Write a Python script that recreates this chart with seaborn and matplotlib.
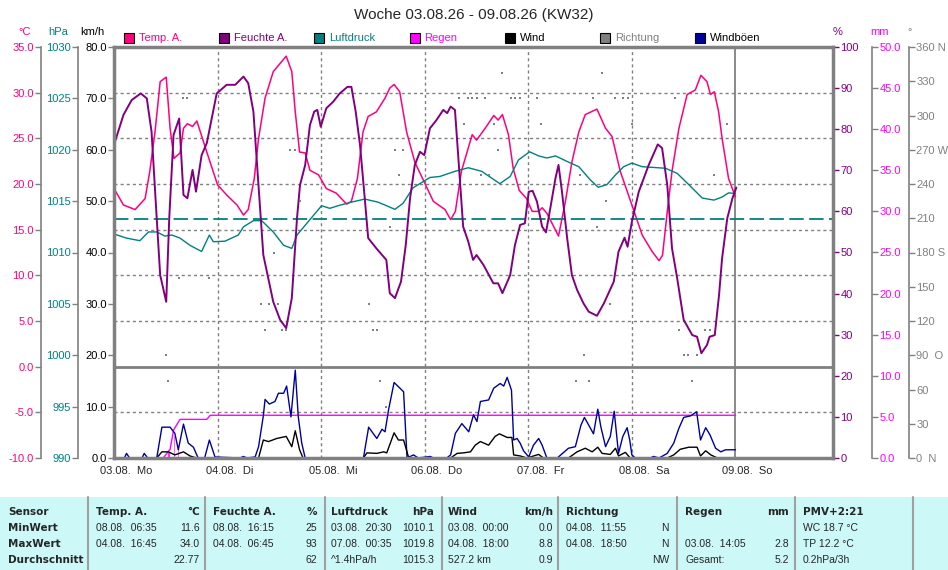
import matplotlib
matplotlib.use("Agg")
import matplotlib.pyplot as plt
import matplotlib.transforms as mtransforms
from matplotlib.patches import Rectangle
from matplotlib.lines import Line2D
import seaborn as sns

sns.set_theme(style="white")
plt.rcParams["font.family"] = ["Liberation Sans", "DejaVu Sans"]

# ---------------- data (hours since 03.08. 00:00) ----------------
temp_h = [0, 2.2, 4.9, 7.2, 8.3, 9.5, 10.7, 12.1, 13, 13.9, 15.3, 16.1, 17, 18.2, 19.2, 21.5,
          24, 26.1, 28.5, 30, 31.1, 32.5, 33.5, 35, 36.9, 39.9, 41.2, 42, 43, 44.3, 45.4, 47.4,
          49.2, 51.5, 53.9, 55, 56.4, 57.7, 58.9, 60.8, 62.8, 63.9, 64.9, 66.2, 67.8, 69.7, 71.7,
          74, 76.7, 78, 79.1, 80.5, 83, 84, 86, 88, 89, 90, 91.4, 92.5, 93.9, 95.6,
          96.9, 98.4, 99.2, 100.3, 103, 104.6, 106.1, 107.7, 109.2, 111.9, 113.9, 115.4, 117.3,
          120, 122.4, 124.7, 126.3, 127.1, 128.2, 129.3, 130.9, 132.8, 134.7, 136, 137.4, 138.2,
          139.1, 140.1, 140.9, 142.4, 144]
temp_v = [19.5, 17.7, 17.2, 18.4, 21.4, 25.7, 31.2, 31.7, 26.1, 22.8, 23.4, 26.1, 26.6, 26.3, 26.9, 23.5,
          19.9, 18.8, 17.7, 16.6, 17.2, 20.6, 25.0, 29.4, 32.3, 34.0, 32.3, 27.9, 23.5, 23.4, 21.5, 21.0,
          19.5, 19.0, 17.8, 18.1, 20.6, 25.7, 27.4, 27.9, 29.4, 30.5, 30.9, 30.1, 25.7, 22.4, 20.4,
          18.1, 17.2, 16.1, 17.0, 21.4, 25.4, 24.8, 26.1, 27.5, 27.0, 27.6, 25.4, 21.7, 19.3, 18.4,
          17.0, 17.0, 17.4, 16.8, 14.3, 18.1, 22.4, 25.7, 27.6, 28.2, 26.1, 25.2, 21.4,
          17.7, 14.4, 12.6, 11.6, 12.2, 17.0, 21.4, 26.1, 29.8, 30.3, 31.9, 31.2, 29.8,
          30.1, 27.9, 25.0, 20.6, 18.6]

hum_h = [0, 2.2, 4.1, 6.2, 7.6, 8.7, 9.9, 10.7, 12.1, 12.8, 13.8, 15.1, 16.1, 17, 18.2, 19, 20.3, 21.5,
         23.8, 26.1, 28.1, 30, 31.1, 32.3, 33.1, 34.6, 36.9, 38.5, 39.9, 41.2, 42.4, 43.1, 44.3, 45.4,
         46.4, 47.1, 47.9, 49.2, 50.8, 52.3, 54.1, 55, 56, 57, 58.1, 58.9, 60.8, 63.1, 63.9, 65.1,
         66.5, 67.6, 68.6, 69.7, 70.9, 71.9, 73.2, 74.7, 76.3, 77.2, 78, 79, 79.8, 80.9, 82.1, 83.2,
         84, 85.6, 87.9, 89, 90, 91.8, 92.9, 94.1, 95.2, 96.1, 97, 98, 99.2, 100.1, 101.1, 102.3, 103,
         103.8, 105, 106.1, 107.3, 108.8, 110, 111.9, 113.5, 115.8, 116.9, 118.3, 119, 120, 121.6,
         123.9, 126, 127, 128.2, 129.3, 130.5, 132, 134, 135.1, 136.1, 137.4, 138, 139.2, 140.2,
         140.9, 142.1, 143.3, 144.2]
hum_v = [76.2, 83.5, 87.1, 88.7, 87.5, 79.4, 58.3, 44.5, 38.0, 58.3, 78.6, 82.6, 64.0, 63.2, 70.1, 64.8, 73.7, 76.6,
         88.7, 90.8, 90.8, 92.8, 91.2, 84.3, 72.1, 49.4, 38.0, 33.6, 31.6, 38.9, 58.3, 66.4, 71.3, 81.0,
         84.3, 84.7, 80.6, 85.1, 86.7, 88.7, 90.3, 90.3, 84.3, 76.2, 63.2, 53.5, 51.0, 48.2, 40.1, 38.9,
         42.9, 51.8, 63.2, 71.3, 74.5, 73.7, 80.2, 82.2, 84.7, 83.9, 85.5, 84.7, 72.9, 56.3, 52.6, 48.2,
         49.4, 47.0, 42.5, 42.5, 40.1, 44.5, 51.8, 56.7, 57.1, 64.8, 65.0, 62.4, 56.3, 54.9, 60.8, 68.1, 71.3,
         64.8, 53.5, 44.5, 40.9, 37.6, 35.6, 34.6, 37.6, 42.9, 50.2, 53.6, 51.4, 57.5, 64.8,
         71.3, 76.3, 75.4, 66.4, 51.0, 43.7, 33.6, 29.9, 29.5, 25.5, 27.5, 29.5, 29.9, 39.7,
         48.6, 58.3, 63.2, 65.8]

pres_h = [0, 2.9, 6, 8, 9.9, 11.8, 13.4, 15.3, 17.6, 20.3, 22.1, 23, 25.7, 28.8, 30, 32.3, 34.2, 36.9,
          39.3, 41.2, 42.4, 45.4, 48.1, 50, 52.3, 55, 58.1, 61.2, 65.1, 67, 69.3, 73.2, 75.5, 79, 82.1,
          85.2, 89.4, 91.8, 93.7, 96.3, 98.4, 100.3, 102.3, 105.3, 107.7, 110.4, 112.2, 114.2, 116.2,
          118.1, 120, 122.4, 127.8, 130.5, 133.2, 136.3, 139, 140.9, 142.4, 144]
pres_v = [1011.8, 1011.4, 1011.15, 1012.0, 1012.0, 1011.6, 1011.7, 1011.4, 1010.7, 1010.1, 1011.7, 1011.05,
          1011.1, 1011.7, 1012.5, 1013.1, 1013.1, 1012.0, 1010.7, 1010.4, 1011.7, 1013.2, 1014.55, 1014.3,
          1014.6, 1014.9, 1015.2, 1014.9, 1014.2, 1014.8, 1016.3, 1017.3, 1017.4, 1017.9, 1018.25, 1017.9,
          1016.7, 1017.4, 1019.0, 1019.8, 1019.4, 1019.2, 1019.4, 1018.8, 1018.35, 1017.05, 1016.35,
          1016.6, 1017.55, 1018.35, 1018.7, 1018.35, 1018.2, 1017.7, 1016.6, 1015.3, 1015.1, 1015.4,
          1015.8, 1015.75]
pres_std = 1013.25

gust_h = [0, 2.4, 2.9, 3.6, 6.5, 7, 7.8, 9.9, 11.1, 13, 14.1, 14.9, 16.1, 17.2, 18.4, 19.5, 21, 22.1,
          23.4, 29.2, 30, 30.8, 32.7, 33.5, 34.6, 35, 36, 37.3, 38.1, 39.3, 40, 41, 42, 42.7, 43.5,
          44.3, 57.8, 59, 60.9, 62.1, 62.8, 63.6, 64.9, 67.1, 67.9, 69.4, 70.5, 73.3, 74, 77.1, 78,
          79.1, 80.6, 82.2, 83.3, 84.1, 84.9, 86.8, 88, 89.5, 90.3, 91.1, 92.1, 92.6, 93.4, 94.1,
          94.9, 96.1, 97.2, 98.4, 99.2, 100.3, 102.7, 103.8, 105.3, 106.9, 108.2, 109, 110, 111.1,
          112.1, 112.8, 113.9, 115, 115.9, 116.9, 117.9, 118.9, 119.5, 120, 120.8, 124.3, 125,
          126.3, 128.2, 129.7, 130.9, 132, 133.6, 135, 135.9, 137.1, 138.1, 139.4, 140.6, 141.7, 144]
gust_v = [0, 0, 0.9, 0, 0, 0.9, 0, 0, 6.0, 6.0, 4.8, 1.6, 6.6, 2.9, 2.1, 0, 0, 3.5,
          0.2, 0, 0.3, 0, 0.2, 2.2, 8.2, 11.4, 10.5, 11.0, 12.6, 12.6, 14.0, 8.0, 17.1, 8.0, 2.9,
          0, 0, 6.0, 3.8, 5.6, 5.1, 9.3, 14.7, 12.9, 0, 0.6, 0, 0.3, 0, 0, 0.6,
          4.8, 6.7, 5.1, 8.4, 7.1, 11.0, 11.3, 13.6, 14.5, 14.0, 15.7, 13.2, 3.5, 3.8, 2.9,
          1.4, 0.2, 2.5, 3.8, 2.5, 0, 0, 0.8, 1.9, 2.2, 6.4, 7.9, 6.4, 4.7,
          9.5, 6.1, 2.2, 4.2, 9.1, 0.9, 4.2, 5.9, 3.5, 0.6, 0, 0, 0.3,
          0, 0.9, 2.9, 5.8, 7.9, 8.2, 9.0, 3.5, 5.9, 4.5, 1.9, 1.2, 1.6, 1.6]

wind_h = [0, 9.9, 11.1, 12.6, 14.1, 16.1, 17.6, 19.1, 33.5, 34.6, 35.8, 37.7, 39.9, 41.2, 42, 43, 43.8,
          57.8, 58.6, 60.9, 62.5, 63.2, 64.9, 65.9, 67.1, 68.3, 78, 79.5, 81, 82.6, 83.7, 84.9, 86.8,
          88.3, 89.3, 91.1, 92.2, 92.6, 94.1, 95.7, 98.4, 99.5, 105.3, 107.3, 109.2, 110.8, 112.1,
          113.1, 115, 116.2, 116.9, 118.5, 119.6, 128.2, 129.7, 131.2, 133.2, 135.1, 135.9, 137.1,
          138.3, 139.8, 144]
wind_v = [0, 0, 1.2, 1.2, 0.6, 1.2, 0.4, 0, 0, 3.5, 3.2, 3.8, 4.2, 2.2, 5.3, 1.6, 0,
          0, 1.0, 0.9, 1.2, 1.0, 4.9, 3.5, 3.5, 0, 0, 0.9, 1.0, 1.2, 2.5, 3.2, 2.5,
          4.2, 4.7, 4.0, 4.0, 0.6, 0.4, 0, 0.7, 0, 0, 1.2, 1.9, 1.2, 2.1,
          0.9, 0.7, 1.9, 0.4, 1.1, 0, 0, 0.6, 1.7, 2.1, 2.1, 0.4, 1.4,
          0.6, 0, 0]

dir_h = [12, 12.5, 15.1, 16.1, 17, 22, 34, 35, 36, 37.1, 38, 38.9, 39.8, 40.8, 42, 43, 59, 60, 61,
         61.7, 63, 64, 65, 66, 67, 80, 81, 82, 83, 84, 85, 86, 87, 88, 89, 90, 92, 93, 94, 98, 99,
         107, 108, 109, 110, 111, 112, 113, 114, 115, 116, 118, 119, 120, 130, 131, 132, 133, 134,
         135, 137, 138, 139, 142]
dir_deg = [90, 67.5, 157.5, 315, 315, 157.5, 135, 112.5, 135, 180, 135, 112.5, 112.5, 270, 270, 225, 135,
           112.5, 112.5, 67.5, 45, 202.5, 270, 247.5, 270, 315, 292.5, 315, 315, 315, 247.5, 315, 247.5,
           292.5, 270, 337.5, 315, 315, 315, 315, 292.5, 67.5, 247.5, 90, 67.5, 315, 202.5, 337.5, 225,
           135, 315, 315, 315, 292.5, 315, 112.5, 90, 90, 67.5, 90, 112.5, 112.5, 247.5, 292.5]

rain_h = [0, 11.4, 12.6, 13.0, 13.8, 15.3, 21.5, 22.3, 144]
rain_total = [0, 0, 0.8, 1.05, 3.4, 4.7, 4.7, 5.2, 5.2]
rain_bar_h = [12.6, 13.9, 14.8, 21.7]
rain_bar_v = [0.8, 2.8, 1.2, 0.3]

day_labels = ["03.08.  Mo", "04.08.  Di", "05.08.  Mi", "06.08.  Do",
              "07.08.  Fr", "08.08.  Sa", "09.08.  So"]
dir_labels = ["0  N", "30", "60", "90  O", "120", "150", "180 S",
              "210", "240", "270 W", "300", "330", "360 N"]

legend_labels = ["Temp. A.", "Feuchte A.", "Luftdruck", "Regen", "Wind", "Richtung", "Windböen"]

table_cols = [
    ("Temp. A.", "°C", ["08.08.  06:35", "04.08.  16:45", ""], ["11.6", "34.0", "22.77"]),
    ("Feuchte A.", "%", ["08.08.  16:15", "04.08.  06:45", ""], ["25", "93", "62"]),
    ("Luftdruck", "hPa", ["03.08.  20:30", "07.08.  00:35", "^1.4hPa/h"], ["1010.1", "1019.8", "1015.3"]),
    ("Wind", "km/h", ["03.08.  00:00", "04.08.  18:00", "527.2 km"], ["0.0", "8.8", "0.9"]),
    ("Richtung", "", ["04.08.  11:55", "04.08.  18:50", ""], ["N", "N", "NW"]),
    ("Regen", "mm", ["", "03.08.  14:05", "Gesamt:"], ["", "2.8", "5.2"]),
]
table_rows = ["Sensor", "MinWert", "MaxWert", "Durchschnitt"]
pmv_lines = ["PMV+2:21", "WC 18.7 °C", "TP 12.2 °C", "0.2hPa/3h"]

# ---------------- styling ----------------
C_TEMP = "#FF0080"
C_HUM = "#800080"
C_PRES = "#008080"
C_RAIN = "#FF00FF"
C_WIND = "#000000"
C_DIR = "#808080"
C_GUST = "#0000A0"
GRID = "#808080"
legend_colors = [C_TEMP, C_HUM, C_PRES, C_RAIN, C_WIND, C_DIR, C_GUST]
legend_text_colors = [C_TEMP, C_HUM, C_PRES, C_RAIN, "black", C_DIR, "black"]
FS = 8
BOLD = dict(fontsize=7.5, weight="bold", family="DejaVu Sans")

W, H = 948, 570
L, R, T, B = 114, 833, 47, 458


def fx(px):
    return px / W


def fy(py):
    return 1 - py / H


fig = plt.figure(figsize=(W / 100, H / 100), dpi=100)
fig.patch.set_facecolor("white")
ax = fig.add_axes([fx(L), fy(B), fx(R) - fx(L), fy(T) - fy(B)])


def twin(side, pos):
    a = ax.twinx()
    for s in a.spines.values():
        s.set_visible(False)
    sp = a.spines[side]
    sp.set_visible(pos != 1.0)
    sp.set_position(("axes", pos))
    sp.set_color(GRID)
    sp.set_linewidth(1.2)
    if side == "left":
        a.yaxis.set_ticks_position("left")
        a.yaxis.set_label_position("left")
    a.grid(False)
    return a


width = R - L
ax_t = twin("left", (41 - L) / width)
ax_p = twin("left", (78 - L) / width)
ax_h = twin("right", 1.0)
ax_r = twin("right", (872 - L) / width)
ax_d = twin("right", (909 - L) / width)

ax.set_zorder(10)
ax.patch.set_visible(False)

# grid (on temperature scale)
for v in [-5, 5, 10, 15, 20, 25, 30]:
    ax_t.axhline(v, color=GRID, lw=1, ls=(0, (2.2, 2.2)))
ax_t.axhline(0, color=GRID, lw=2)
for d in range(1, 6):
    ax_t.axvline(24 * d, color=GRID, lw=1, ls=(0, (2.2, 2.2)))
ax_t.axvline(144, color=GRID, lw=1.3)

# series
sns.lineplot(x=pres_h, y=pres_v, ax=ax_p, color=C_PRES, lw=1)
ax_p.axhline(pres_std, color=C_PRES, lw=1.3, ls=(0, (8, 3)))
sns.lineplot(x=hum_h, y=hum_v, ax=ax_h, color=C_HUM, lw=1.4)
sns.lineplot(x=temp_h, y=temp_v, ax=ax_t, color=C_TEMP, lw=1.1)
sns.scatterplot(x=dir_h, y=dir_deg, ax=ax_d, color=C_DIR, marker="s", s=4, linewidth=0)
ax_r.bar(rain_bar_h, rain_bar_v, width=0.6, color=C_RAIN)
sns.lineplot(x=rain_h, y=rain_total, ax=ax_r, color=C_RAIN, lw=1)
sns.lineplot(x=gust_h, y=gust_v, ax=ax, color=C_GUST, lw=1)
sns.lineplot(x=wind_h, y=wind_v, ax=ax, color=C_WIND, lw=1)

# scales
ax.set_xlim(0, 166.6)
ax.set_ylim(0, 80)
ax_t.set_ylim(-10, 35)
ax_p.set_ylim(990, 1030)
ax_h.set_ylim(0, 100)
ax_r.set_ylim(0, 50)
ax_d.set_ylim(0, 360)

for a in [ax, ax_t, ax_p, ax_h, ax_r, ax_d]:
    a.set_ylabel("")
    a.set_xlabel("")

ax.set_yticks(range(0, 81, 10))
ax.set_yticklabels([f"{v:.1f}" for v in range(0, 81, 10)])
ax_t.set_yticks(range(-10, 36, 5))
ax_t.set_yticklabels([f"{v:.1f}" for v in range(-10, 36, 5)])
ax_p.set_yticks(range(990, 1031, 5))
ax_p.set_yticklabels([str(v) for v in range(990, 1031, 5)])
ax_h.set_yticks(range(0, 101, 10))
ax_h.set_yticklabels([str(v) for v in range(0, 101, 10)])
ax_r.set_yticks(range(0, 51, 5))
ax_r.set_yticklabels([f"{v:.1f}" for v in range(0, 51, 5)])
ax_d.set_yticks(range(0, 361, 30))
ax_d.set_yticklabels(dir_labels)

tick_kw = dict(axis="y", direction="out", length=4.5, width=1, color=GRID, pad=0.8, labelsize=FS)
ax.tick_params(labelcolor="black", **tick_kw)
ax_t.tick_params(labelcolor=C_TEMP, **tick_kw)
ax_p.tick_params(labelcolor=C_PRES, **tick_kw)
ax_h.tick_params(labelcolor=C_HUM, **{**tick_kw, "color": C_HUM})
ax_r.tick_params(labelcolor=C_RAIN, **tick_kw)
ax_d.tick_params(labelcolor=C_DIR, **tick_kw)

ax.set_xticks([24 * d for d in range(7)])
ax.set_xticklabels(day_labels)
ax.tick_params(axis="x", length=0, pad=6, labelsize=FS)
shift = mtransforms.ScaledTranslation(0.12, 0, fig.dpi_scale_trans)
for lab in ax.get_xticklabels():
    lab.set_transform(lab.get_transform() + shift)

for s in ax.spines.values():
    s.set_color(GRID)
    s.set_linewidth(2.5)

# units
for txt, px, col in [("°C", 25, C_TEMP), ("hPa", 58, C_PRES), ("km/h", 92, "black"),
                     ("%", 838, C_HUM), ("mm", 880, C_RAIN), ("°", 910, C_DIR)]:
    fig.text(fx(px), fy(32), txt, color=col, fontsize=FS, ha="center", va="center")

fig.text(fx(474), fy(15), "Woche 03.08.26 - 09.08.26 (KW32)", fontsize=11, ha="center", va="center")

# legend
for i, (lab, col, tcol) in enumerate(zip(legend_labels, legend_colors, legend_text_colors)):
    x0 = 124 + 95.2 * i
    fig.add_artist(Rectangle((fx(x0), fy(43)), fx(10), 10 / H, transform=fig.transFigure,
                             facecolor=col, edgecolor="black", lw=0.8))
    fig.text(fx(x0 + 15), fy(38), lab, color=tcol, fontsize=FS, ha="left", va="center")

# table
fig.add_artist(Rectangle((0, 0), 1, fy(497), transform=fig.transFigure,
                         facecolor="#CCF8F8", edgecolor="none"))
for sx in [88, 205, 325, 442, 558, 677, 795, 913]:
    fig.add_artist(Line2D([fx(sx), fx(sx)], [0, fy(497)], color="#A0A0A0", lw=1.5))

row_y = [512, 528, 544, 560]
for lab, yy in zip(table_rows, row_y):
    fig.text(fx(8), fy(yy), lab, ha="left", va="center", **BOLD)
col_left = [96, 213, 331, 448, 566, 685]
col_right = [200, 317, 434, 553, 669, 789]
for (head, unit, lefts, rights), xl, xr in zip(table_cols, col_left, col_right):
    fig.text(fx(xl), fy(row_y[0]), head, ha="left", va="center", **BOLD)
    fig.text(fx(xr), fy(row_y[0]), unit, ha="right", va="center", **BOLD)
    for lt, rt, yy in zip(lefts, rights, row_y[1:]):
        fig.text(fx(xl), fy(yy), lt, fontsize=7.5, ha="left", va="center")
        fig.text(fx(xr), fy(yy), rt, fontsize=7.5, ha="right", va="center")
for i, (lt, yy) in enumerate(zip(pmv_lines, row_y)):
    if i == 0:
        fig.text(fx(803), fy(yy), lt, ha="left", va="center", **BOLD)
    else:
        fig.text(fx(803), fy(yy), lt, fontsize=7.5, ha="left", va="center")

fig.savefig("out.png", dpi=100)
